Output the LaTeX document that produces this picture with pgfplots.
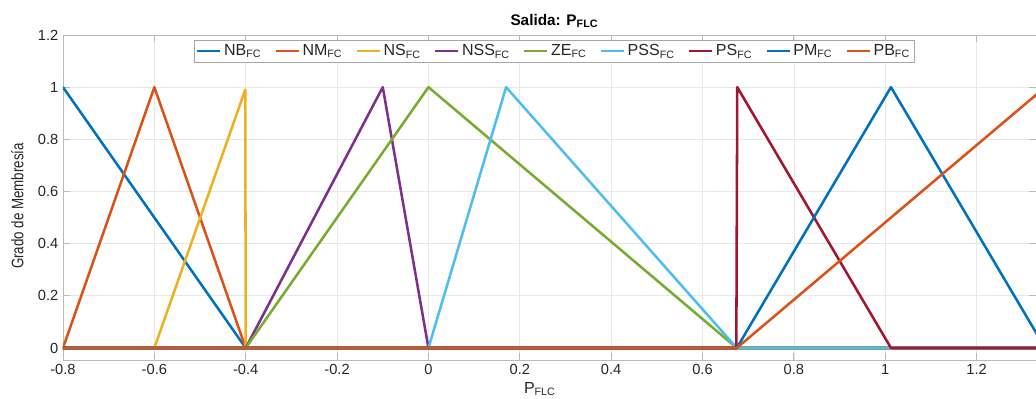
\documentclass[border=0pt]{standalone}
\usepackage{pgfplots}
\pgfplotsset{compat=1.18}
\usepackage{fontspec}
\setmainfont{Liberation Sans}
\definecolor{c1}{rgb}{0,0.447,0.741}
\definecolor{c2}{rgb}{0.85,0.325,0.098}
\definecolor{c3}{rgb}{0.929,0.694,0.125}
\definecolor{c4}{rgb}{0.494,0.184,0.556}
\definecolor{c5}{rgb}{0.466,0.674,0.188}
\definecolor{c6}{rgb}{0.301,0.745,0.933}
\definecolor{c7}{rgb}{0.635,0.078,0.184}
\definecolor{txt}{rgb}{0.15,0.15,0.15}
\begin{document}
\begin{tikzpicture}
\path[use as bounding box] (0,0) rectangle (777pt,299.25pt);
\begin{axis}[
  at={(47.25pt,29.25pt)}, anchor=south west,
  scale only axis, width=729.75pt, height=243.75pt,
  xmin=-0.8, xmax=1.33, ymin=-0.046, ymax=1.2,
  xtick={-0.8,-0.6,...,1.21}, ytick={0,0.2,...,1.21},
  /pgf/number format/assume math mode=true,
  tick label style={font=\fontsize{11}{13}\selectfont, text=txt},
  xticklabel={\pgfmathprintnumber[fixed,precision=1]{\tick}},
  grid=major, major grid style={draw=gray!18, line width=0.5pt},
  axis line style={draw=gray!55, line width=0.6pt},
  tick style={draw=gray!55, line width=0.6pt},
  tick align=inside, major tick length=5pt,
  clip mode=individual,
  title={\bfseries Salida: P\textsubscript{FLC}},
  title style={at={(axis description cs:0.505,1.018)}, anchor=center, yshift=0pt, font=\fontsize{11.5}{13}\selectfont, text=black},
  xlabel={P\textsubscript{FLC}},
  xlabel style={at={(axis description cs:0.49,-0.09)}, anchor=center, font=\fontsize{12}{14}\selectfont, text=txt},
  ylabel={\scalebox{0.8}[1]{Grado de Membresía}},
  ylabel style={at={(axis description cs:-0.047,0.474)}, anchor=center, rotate=0, font=\fontsize{12.5}{14}\selectfont, text=txt},
  legend columns=9,
  legend style={at={(axis description cs:0.505,0.985)}, anchor=north, draw=gray!70, line width=0.5pt,
    font=\fontsize{12}{13}\selectfont, text=txt, inner sep=1.2pt,
    /tikz/every even column/.append style={column sep=8pt}},
  every axis plot/.append style={line width=1.9pt, line join=round},
]
\addplot[c1] coordinates {(-0.8,1) (-0.4,0) (1.35,0)};
\addlegendentry{NB\textsubscript{FC}}
\addplot[c2] coordinates {(-0.8,0) (-0.6,1) (-0.4,0) (1.35,0)};
\addlegendentry{NM\textsubscript{FC}}
\addplot[c3] coordinates {(-0.8,0) (-0.6,0) (-0.401,0.99) (-0.4,0) (1.35,0)};
\addlegendentry{NS\textsubscript{FC}}
\addplot[c4] coordinates {(-0.8,0) (-0.4,0) (-0.1,1) (0,0) (1.35,0)};
\addlegendentry{NSS\textsubscript{FC}}
\addplot[c5] coordinates {(-0.8,0) (-0.4,0) (0,1) (0.675,0) (1.35,0)};
\addlegendentry{ZE\textsubscript{FC}}
\addplot[c6] coordinates {(-0.8,0) (0,0) (0.17,1) (0.675,0) (1.35,0)};
\addlegendentry{PSS\textsubscript{FC}}
\addplot[c7] coordinates {(-0.8,0) (0.674,0) (0.676,1) (1.0125,0) (1.35,0)};
\addlegendentry{PS\textsubscript{FC}}
\addplot[c1] coordinates {(-0.8,0) (0.675,0) (1.0125,1) (1.35,0)};
\addlegendentry{PM\textsubscript{FC}}
\addplot[c2] coordinates {(-0.8,0) (0.675,0) (1.35,1)};
\addlegendentry{PB\textsubscript{FC}}
\end{axis}
\end{tikzpicture}
\end{document}
